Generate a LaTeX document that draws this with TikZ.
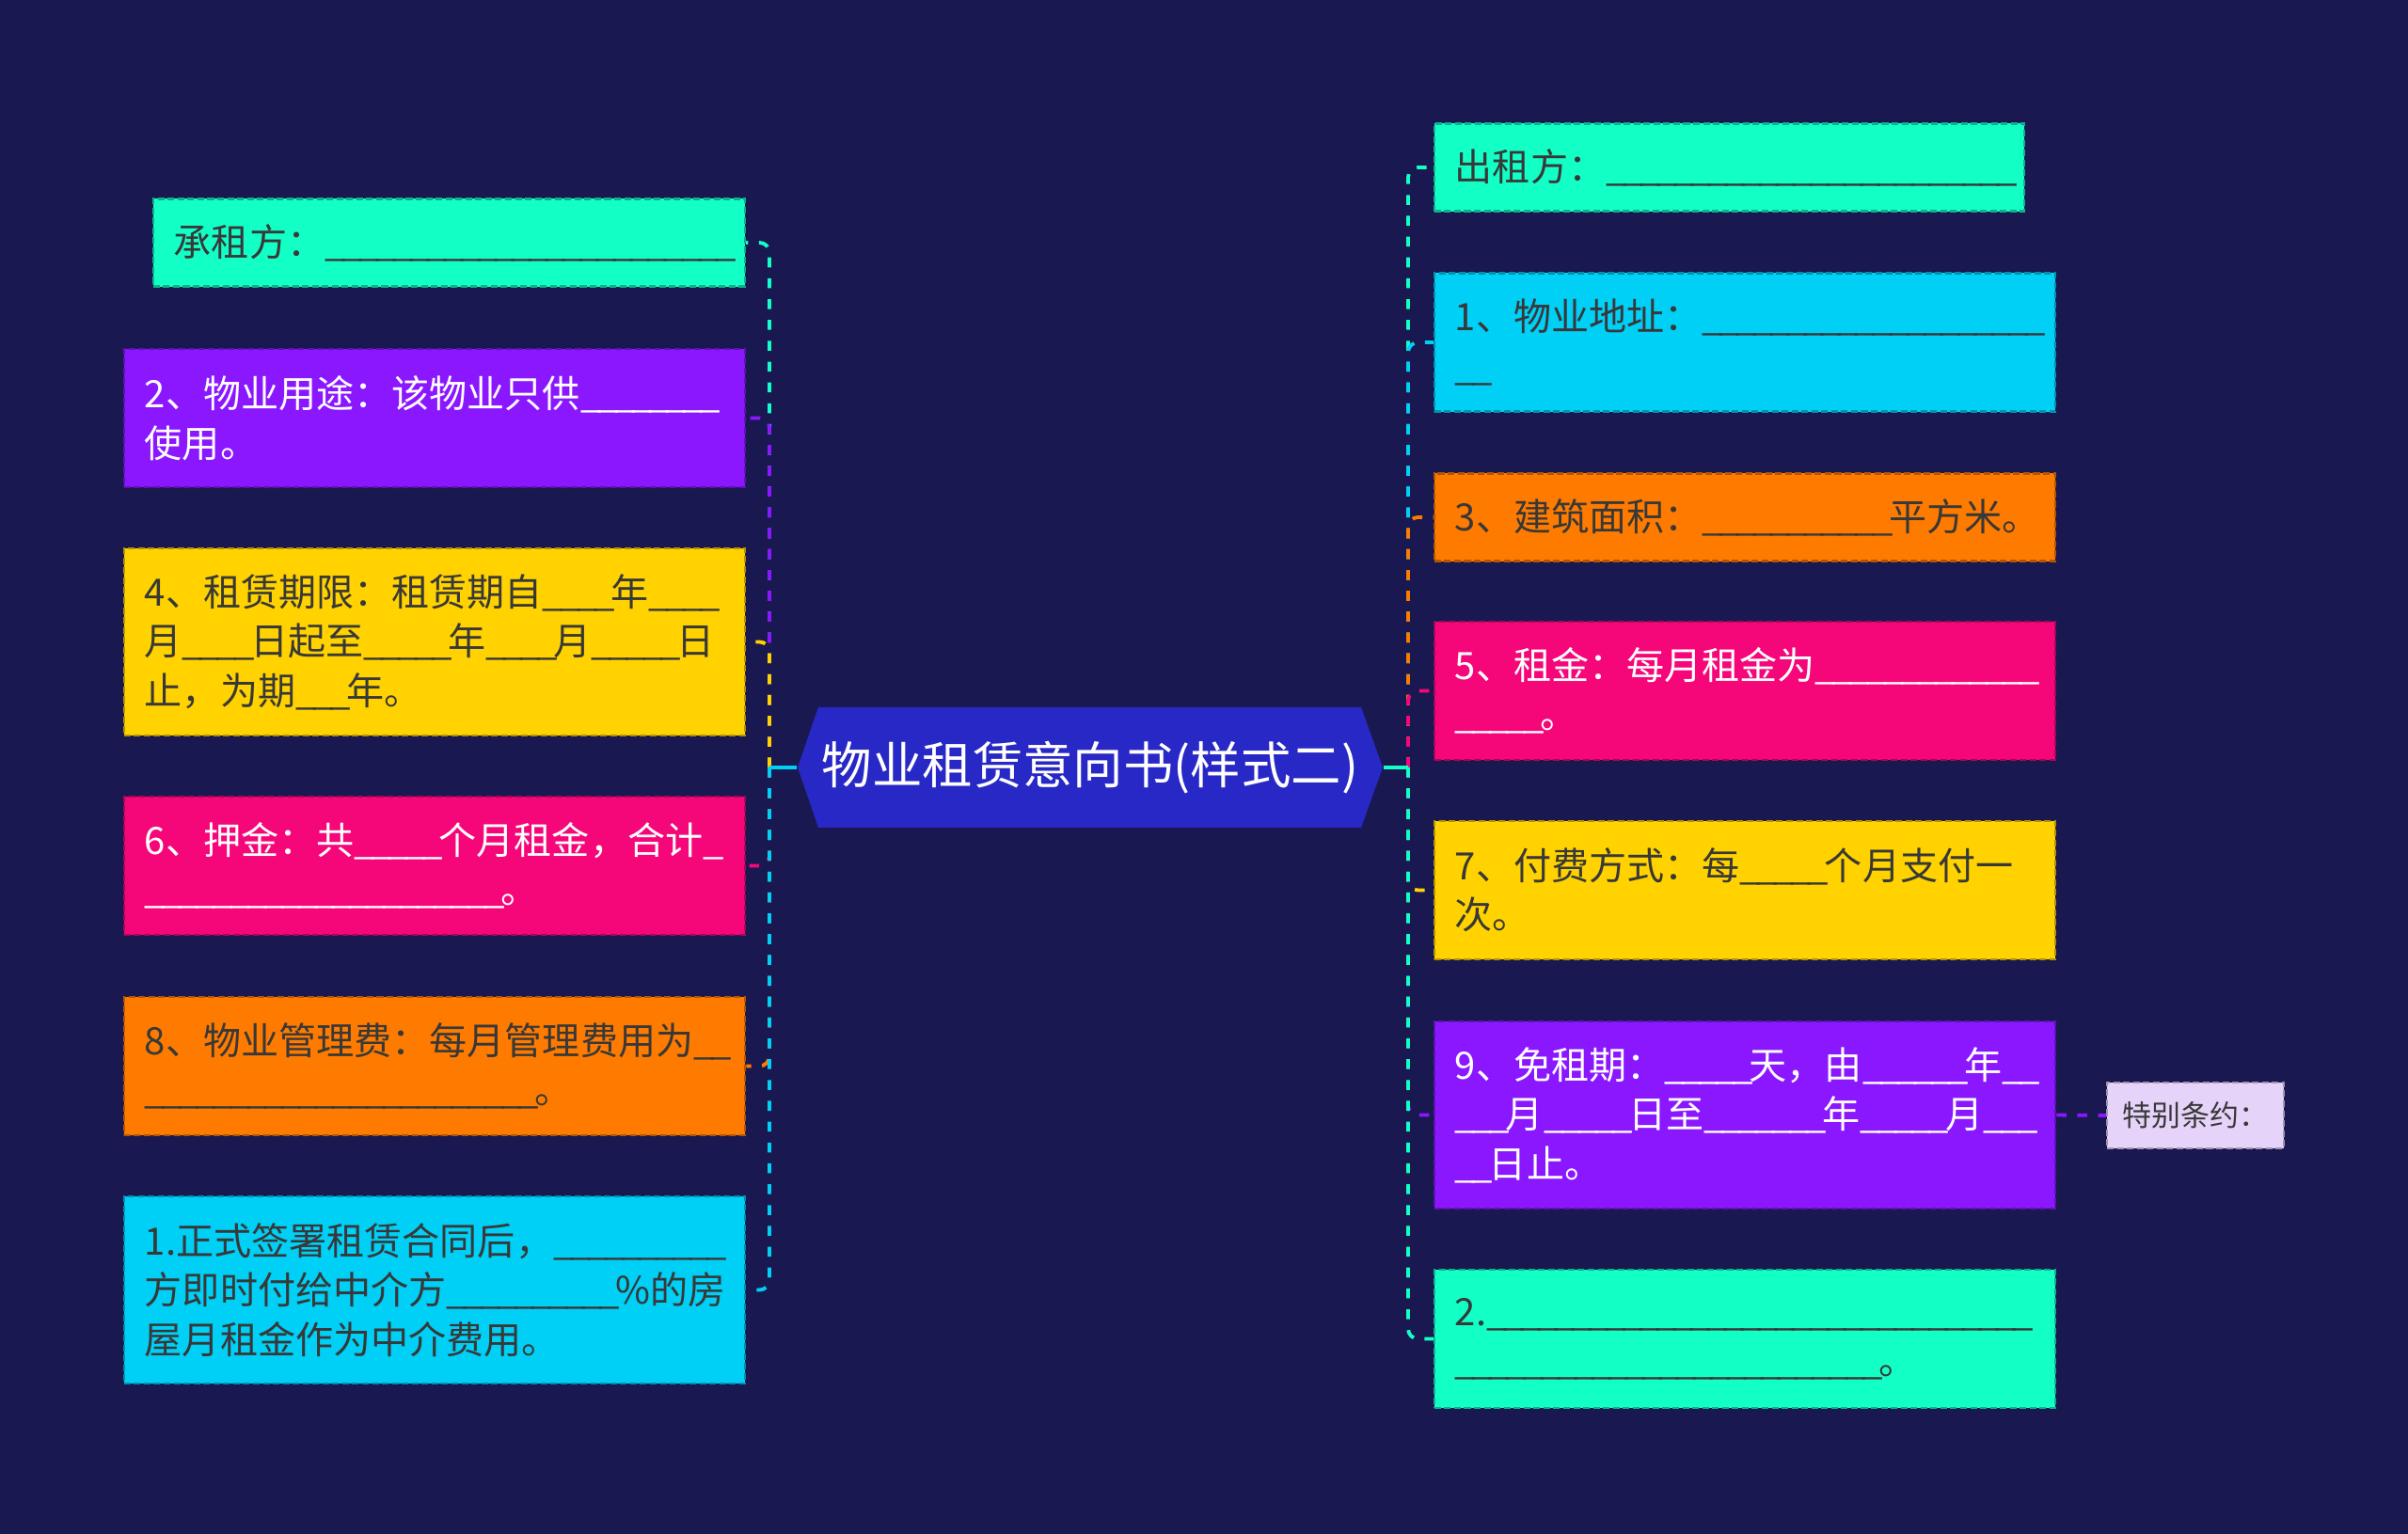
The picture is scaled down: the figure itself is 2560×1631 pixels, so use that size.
\documentclass[tikz,border=0pt]{standalone}
\usepackage{fontspec}
\setmainfont{Noto Sans CJK SC}
\usepackage{tikz}

\definecolor{bgnavy}{HTML}{1A1850}
\definecolor{hubblue}{HTML}{2828C6}
\definecolor{cteal}{HTML}{12FFC6}
\definecolor{ccyan}{HTML}{00CFF6}
\definecolor{cpurple}{HTML}{8B17FF}
\definecolor{cyellow}{HTML}{FFD200}
\definecolor{cpink}{HTML}{F5077A}
\definecolor{corange}{HTML}{FF7B00}
\definecolor{clilac}{HTML}{E6D3FA}

\newcommand{\blanks}[1]{\foreach \k in {1,...,#1}{\makebox[0.45em][l]{\_}}}

\begin{document}
\begin{tikzpicture}[x=0.01cm, y=-0.01cm,
        item/.style={draw=#1!70!black, fill=#1, dash pattern=on 2pt off 1pt, line width=0.6pt,
                inner xsep=0.22cm, inner ysep=0pt, align=left, text width=6.16cm,
                font=\fontsize{11.4pt}{14.9pt}\selectfont},
        dark/.style={text=black!78},
        light/.style={text=white},
        h1/.style={minimum height=0.93cm},
        h2/.style={minimum height=1.47cm},
        h3/.style={minimum height=1.99cm},
        hub/.style={text=white, font=\fontsize{15.2pt}{18pt}\selectfont, minimum width=6.22cm,
                minimum height=1.28cm, inner sep=0pt},
        remark/.style={fill=clilac, draw=clilac!70!black, dash pattern=on 2pt off 1pt, line width=0.6pt,
                minimum width=1.88cm, minimum height=0.70cm, inner sep=0pt, text=black!78,
                font=\fontsize{8.8pt}{10pt}\selectfont},
        link/.style={line width=1.1pt, dash pattern=on 3pt off 3.3pt, rounded corners=3pt}]
        \useasboundingbox (0,0) rectangle (2560,1631);
        \fill[bgnavy] (0,0) rectangle (2560,1631);

        \fill[hubblue] (848,816) -- (870,752) -- (1447,752) -- (1470,816) -- (1447,880) -- (870,880) -- cycle;
        \node[hub] (hub) at (1159,816) {物业租赁意向书(样式二)};

        \node[item=cteal, dark, h1, text width=5.85cm] (lt1) at (477.5,258) {承租方：\blanks{24}};
        \node[item=cpurple, light, h2] (lt2) at (462,444.5) {2、物业用途：该物业只供\blanks{8}\\使用。};
        \node[item=cyellow, dark, h3] (lt3) at (462,682.5) {4、租赁期限：租赁期自\blanks{4}年\blanks{4}\\月\blanks{4}日起至\blanks{5}年\blanks{4}月\blanks{5}日\\止，为期\blanks{3}年。};
        \node[item=cpink, light, h2] (lt4) at (462,920.5) {6、押金：共\blanks{5}个月租金，合计\blanks{1}\\\blanks{21}。};
        \node[item=corange, dark, h2] (lt5) at (462,1133.5) {8、物业管理费：每月管理费用为\blanks{2}\\\blanks{23}。};
        \node[item=ccyan, dark, h3] (lt6) at (462,1371.5) {1.正式签署租赁合同后，\blanks{10}\\方即时付给中介方\blanks{10}\%的房\\屋月租金作为中介费用。};

        \node[item=cteal, dark, h1, text width=5.83cm] (rt1) at (1838.5,178) {出租方：\blanks{24}};
        \node[item=ccyan, dark, h2] (rt2) at (1855,364) {1、物业地址：\blanks{20}\\\blanks{2}};
        \node[item=corange, dark, h1] (rt3) at (1855,550) {3、建筑面积：\blanks{11}平方米。};
        \node[item=cpink, light, h2] (rt4) at (1855,734.5) {5、租金：每月租金为\blanks{13}\\\blanks{5}。};
        \node[item=cyellow, dark, h2] (rt5) at (1855,946.5) {7、付费方式：每\blanks{5}个月支付一\\次。};
        \node[item=cpurple, light, h3] (rt6) at (1855,1185.5) {9、免租期：\blanks{5}天，由\blanks{6}年\blanks{2}\\\blanks{3}月\blanks{5}日至\blanks{7}年\blanks{5}月\blanks{3}\\\blanks{2}日止。};
        \node[item=cteal, dark, h2] (rt7) at (1855,1423.5) {2.\blanks{32}\\\blanks{25}。};
        \node[remark] (extra) at (2334,1186) {特别条约：};

        \coordinate (ltrunk) at (818,816);
        \coordinate (rtrunk) at (1497,816);
        \foreach \n/\c in {lt1/cteal, lt2/cpurple, lt3/cyellow, lt4/cpink, lt5/corange, lt6/ccyan} {
                \draw[color=\c, line width=1.1pt] (hub.west) -- (ltrunk);
                \draw[link, color=\c] (ltrunk) |- (\n.east);
        }
        \foreach \n/\c in {rt1/cteal, rt2/ccyan, rt3/corange, rt4/cpink, rt5/cyellow, rt6/cpurple, rt7/cteal} {
                \draw[color=\c, line width=1.1pt] (hub.east) -- (rtrunk);
                \draw[link, color=\c] (rtrunk) |- (\n.west);
        }
        \draw[link, color=cpurple] (rt6.east) -- (extra.west);
\end{tikzpicture}
\end{document}
